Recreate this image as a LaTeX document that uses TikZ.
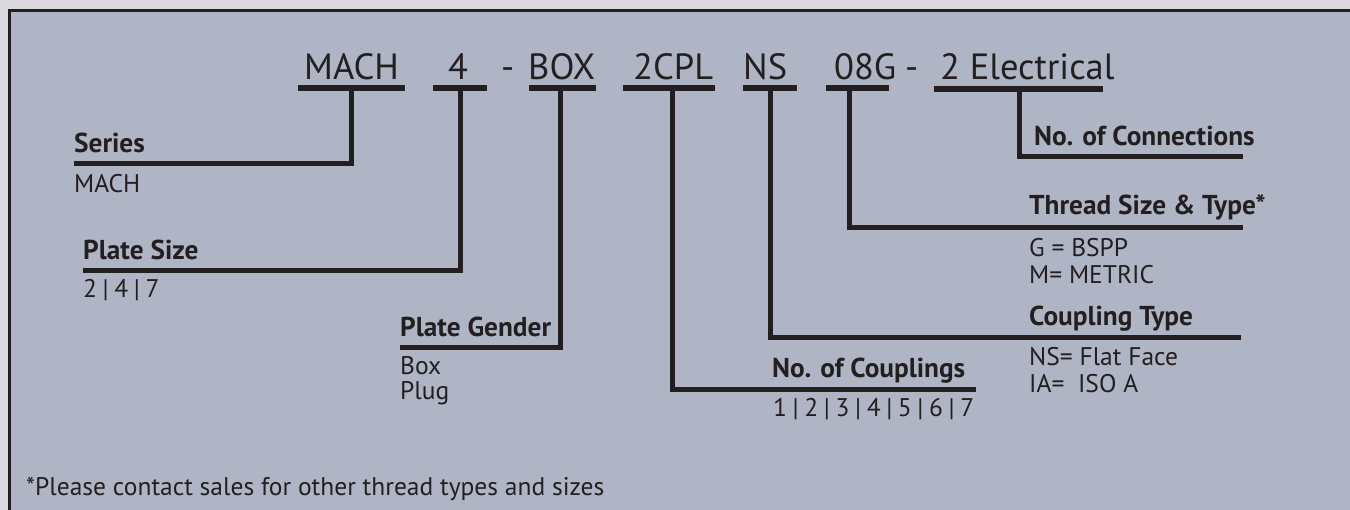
\documentclass[tikz,border=0pt]{standalone}
\usepackage{fontspec}
\setmainfont{PT Sans}
\usepackage{xcolor}

\definecolor{panel}{RGB}{175,181,197}
\definecolor{ink}{RGB}{35,31,32}
\definecolor{margin}{RGB}{218,218,222}

\newcommand{\sep}{\hspace{0.22em}|\hspace{0.22em}}

\begin{document}
\begin{tikzpicture}[x = 1pt, y = -1pt, line join = miter,
  code/.style = {inner sep = 0pt, anchor = base west, text = ink, font = \fontsize{36.5}{44}\selectfont},
  head/.style = {inner sep = 0pt, anchor = base west, text = ink, font = \fontsize{27.3}{30}\selectfont\bfseries},
  opts/.style = {inner sep = 0pt, anchor = base west, text = ink, font = \fontsize{25.5}{28}\selectfont},
  uline/.style = {ink, line width = 5.5pt},
  leader/.style = {ink, line width = 5pt}]
  \useasboundingbox (0, 0) rectangle (1350, 510);
  % panel and frame
  \fill [margin] (0, 0) rectangle (1350, 510);
  \fill [panel] (9.7, 10.8) rectangle (1350, 510);
  \draw [ink, line width = 3pt] (9.7, 510) -- (9.7, 10.8) -- (1350, 10.8);

  % part number
  \node[code] (mach) at (304, 80) {MACH};
  \node[code] (four) at (448, 80) {4};
  \node[code] (dashA) at (501, 80) {-};
  \node[code] (box) at (528, 80) {BOX};
  \node[code] (cpl) at (633, 80) {2CPL};
  \node[code] (ns) at (743, 80) {NS};
  \node[code] (thr) at (834, 80) {08G};
  \node[code] (dashB) at (905, 80) {-};
  \node[code] (elec) at (940, 80) {2 Electrical};
  \draw [uline] (298, 88) -- (405, 88);
  \draw [uline] (433, 88) -- (487, 88);
  \draw [uline] (529, 88) -- (596, 88);
  \draw [uline] (623, 88) -- (715, 88);
  \draw [uline] (743, 88) -- (797, 88);
  \draw [uline] (826, 88) -- (889, 88);
  \draw [uline] (934, 89) -- (1103, 89);

  % left side
  \node[head] (series) at (74, 153) {Series};
  \node[opts] (seriesA) at (74, 193) {MACH};
  \coordinate (seriesTop) at (351, 88);
  \coordinate (seriesEnd) at (74, 164);
  \draw [leader] (seriesTop) |- (seriesEnd);

  \node[head] (size) at (83, 260) {Plate Size};
  \node[opts] (sizeA) at (83, 298) {2\sep4\sep7};
  \coordinate (sizeTop) at (460, 88);
  \coordinate (sizeEnd) at (83, 271);
  \draw [leader] (sizeTop) |- (sizeEnd);

  \node[head] (gender) at (400, 337) {Plate Gender};
  \node[opts] (genderA) at (400, 375) {Box};
  \node[opts] (genderB) at (400, 400) {Plug};
  \coordinate (genderTop) at (560, 88);
  \coordinate (genderEnd) at (400, 348);
  \draw [leader] (genderTop) |- (genderEnd);

  \node[head] (count) at (772, 378) {No. of Couplings};
  \node[opts] (countA) at (773, 417) {1\sep2\sep3\sep4\sep5\sep6\sep7};
  \coordinate (countTop) at (672, 88);
  \coordinate (countEnd) at (976, 390);
  \draw [leader] (countTop) |- (countEnd);

  % right side
  \node[head] (ctype) at (1029, 326) {Coupling Type};
  \node[opts] (ctypeA) at (1029, 366) {NS= Flat Face};
  \node[opts] (ctypeB) at (1029, 393) {IA=\ \ ISO A};
  \coordinate (ctypeTop) at (770, 88);
  \coordinate (ctypeEnd) at (1241, 338);
  \draw [leader] (ctypeTop) |- (ctypeEnd);

  \node[head] (thread) at (1029, 215) {Thread Size \& Type*};
  \node[opts] (threadA) at (1029, 257) {G = BSPP};
  \node[opts] (threadB) at (1029, 284) {M= METRIC};
  \coordinate (threadTop) at (849, 88);
  \coordinate (threadEnd) at (1243, 228);
  \draw [leader] (threadTop) |- (threadEnd);

  \node[head] (conn) at (1034, 146) {No. of Connections};
  \coordinate (connTop) at (1019, 89);
  \coordinate (connEnd) at (1243, 157);
  \draw [leader] (connTop) |- (connEnd);

  % footnote
  \node[opts] (note) at (26, 496) {*Please contact sales for other thread types and sizes};
\end{tikzpicture}
\end{document}
